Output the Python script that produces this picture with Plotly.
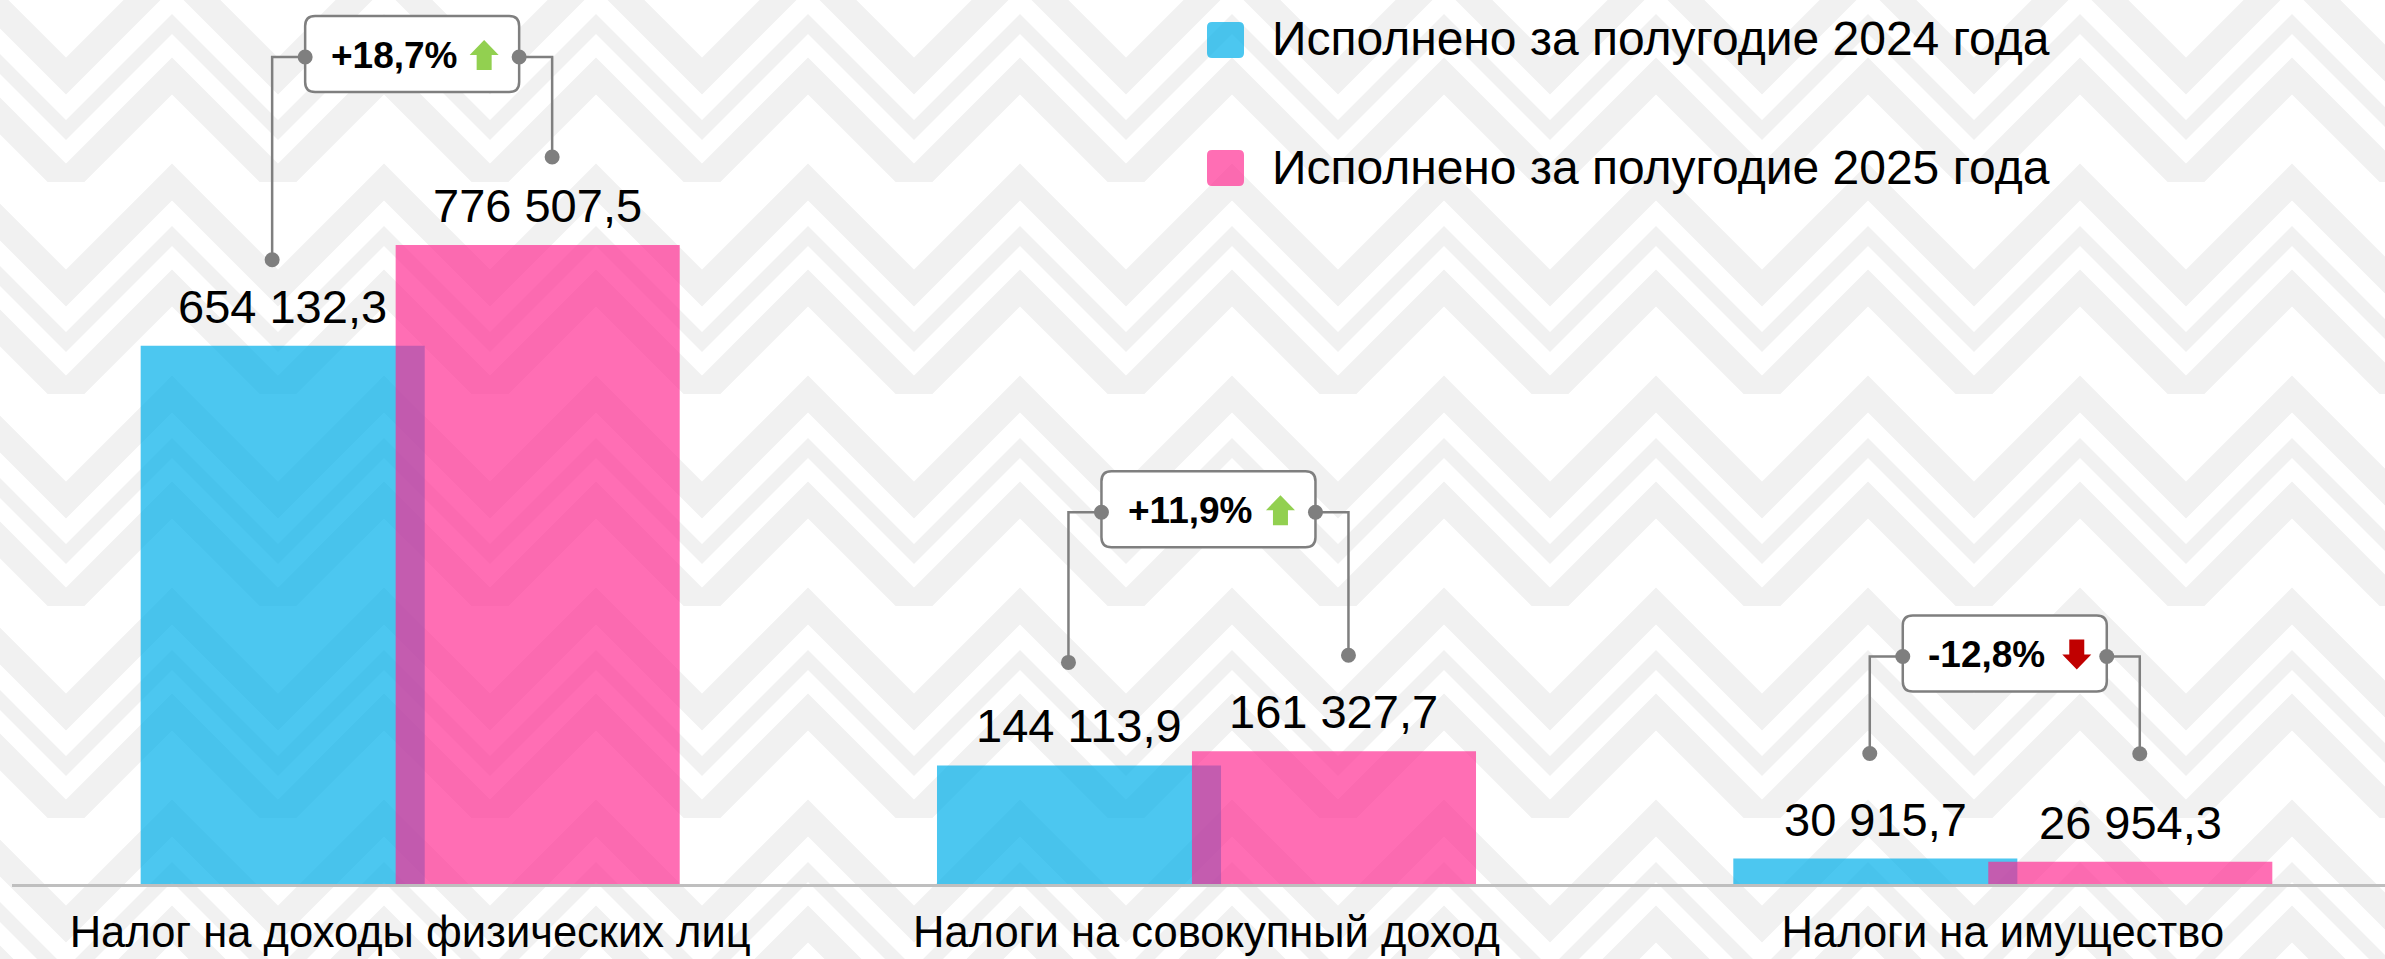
import base64
import plotly.graph_objects as go

# ---------------- data ----------------
categories = ["Налог на доходы физических лиц", "Налоги на совокупный доход", "Налоги на имущество"]
series_names = ["Исполнено за полугодие 2024 года", "Исполнено за полугодие 2025 года"]
values_2024 = [654132.3, 144113.9, 30915.7]
values_2025 = [776507.5, 161327.7, 26954.3]

# ---------------- layout / style constants ----------------
W, H = 2385, 959
M_L, M_R, M_T, M_B = 12, 0, 0, 75
PLOT_W = W - M_L - M_R
PLOT_H = H - M_T - M_B
X_RANGE = [-0.5, 2.48]
Y_RANGE = [0, 1074250]
UX = (X_RANGE[1] - X_RANGE[0]) / PLOT_W   # data units per pixel (x)
UY = (Y_RANGE[1] - Y_RANGE[0]) / PLOT_H   # data units per pixel (y)

BAR_W = 0.3567
OFF_24 = -0.3384
OFF_25 = -0.0182
C24 = "rgba(0,175,234,0.70)"
C25 = "rgba(255,39,143,0.67)"
GRAY = "#7F7F7F"
FONT = "Liberation Sans, Arial, sans-serif"

# bracket tuning (pixels)
box_lift_px = [188, 239, 202]
dot_gap_left_px = [86, 103, 105]
dot_gap_right_px = [88, 96, 108]


def fmt_num(v):
    return f"{v:,.1f}".replace(",", " ").replace(".", ",")


def rrect_path(x0, y0, x1, y1, rx, ry):
    return (f"M {x0+rx},{y1} L {x1-rx},{y1} Q {x1},{y1} {x1},{y1-ry} "
            f"L {x1},{y0+ry} Q {x1},{y0} {x1-rx},{y0} L {x0+rx},{y0} "
            f"Q {x0},{y0} {x0},{y0+ry} L {x0},{y1-ry} Q {x0},{y1} {x0+rx},{y1} Z")


xs = list(range(len(categories)))

fig = go.Figure()
fig.add_trace(go.Bar(x=xs, y=values_2024, name=series_names[0], width=BAR_W, offset=OFF_24,
                     marker=dict(color=C24, line=dict(width=0)), showlegend=False))
fig.add_trace(go.Bar(x=xs, y=values_2025, name=series_names[1], width=BAR_W, offset=OFF_25,
                     marker=dict(color=C25, line=dict(width=0)), showlegend=False))

annotations = []
shapes = []

# value labels
for vals, off in ((values_2024, OFF_24), (values_2025, OFF_25)):
    for i, v in enumerate(vals):
        annotations.append(dict(x=i + off + BAR_W / 2, y=v, xref="x", yref="y", text=fmt_num(v),
                                showarrow=False, yanchor="bottom", xanchor="center", yshift=11,
                                font=dict(family=FONT, size=47, color="black")))

# comparison brackets
for i in xs:
    v24, v25 = values_2024[i], values_2025[i]
    pct = (v25 / v24 - 1) * 100
    vmax = max(v24, v25)
    L = vmax + box_lift_px[i] * UY
    cx = i + 2 * UX
    hw = 107 if pct >= 0 else 102
    bx0, bx1 = cx - hw * UX, cx + hw * UX
    by0, by1 = L - 35 * UY, L + 41 * UY
    xl, xr = bx0 - 33 * UX, bx1 + 33 * UX
    yl = v24 + dot_gap_left_px[i] * UY
    yr = v25 + dot_gap_right_px[i] * UY
    line = dict(color=GRAY, width=2.5)
    shapes.append(dict(type="path", xref="x", yref="y", path=f"M {bx0},{L} L {xl},{L} L {xl},{yl}",
                       line=line, fillcolor="rgba(0,0,0,0)"))
    shapes.append(dict(type="path", xref="x", yref="y", path=f"M {bx1},{L} L {xr},{L} L {xr},{yr}",
                       line=line, fillcolor="rgba(0,0,0,0)"))
    shapes.append(dict(type="path", xref="x", yref="y",
                       path=rrect_path(bx0, by0, bx1, by1, 10 * UX, 10 * UY),
                       line=dict(color=GRAY, width=2.5), fillcolor="white"))
    r = 7.5
    for (px, py) in ((bx0, L), (xl, yl), (bx1, L), (xr, yr)):
        shapes.append(dict(type="circle", xref="x", yref="y",
                           x0=px - r * UX, x1=px + r * UX, y0=py - r * UY, y1=py + r * UY,
                           line=dict(width=0), fillcolor=GRAY))
    sign = "+" if pct >= 0 else "-"
    txt = f"<b>{sign}{abs(pct):.1f}%</b>".replace(".", ",")
    annotations.append(dict(x=cx - 18 * UX, y=L + 2 * UY, xref="x", yref="y", text=txt,
                            showarrow=False, xanchor="center", yanchor="middle",
                            font=dict(family=FONT, size=37, color="black")))
    # arrow icon
    ax, ay = cx + 72 * UX, L + 2 * UY
    d = 1 if pct >= 0 else -1
    pts = [(0, 15), (14.5, 0), (7.5, 0), (7.5, -15), (-7.5, -15), (-7.5, 0), (-14.5, 0)]
    p = " L ".join(f"{ax + px_ * UX},{ay + d * py_ * UY}" for px_, py_ in pts)
    shapes.append(dict(type="path", xref="x", yref="y", path=f"M {p} Z",
                       line=dict(width=0), fillcolor="#92D050" if pct >= 0 else "#C00000"))


# manual legend (pixel positions converted to paper coords)
def xp(px):
    return (px - M_L) / PLOT_W


def yp(py):
    return (H - M_B - py) / PLOT_H


for k, (name, col) in enumerate(zip(series_names, [C24, C25])):
    cy = 40 + 128 * k
    x0, x1 = xp(1207), xp(1244)
    y0, y1 = yp(cy + 18), yp(cy - 18)
    shapes.append(dict(type="path", xref="paper", yref="paper",
                       path=rrect_path(x0, y0, x1, y1, 5 / PLOT_W, 5 / PLOT_H),
                       line=dict(width=0), fillcolor=col))
    annotations.append(dict(x=xp(1270), y=yp(cy - 1), xref="paper", yref="paper", text=name,
                            showarrow=False, xanchor="left", yanchor="middle",
                            font=dict(family=FONT, size=48, color="black")))

# decorative ornament background (very light grey chevrons)
svg_bg = (
    f'<svg xmlns="http://www.w3.org/2000/svg" width="{W}" height="{H}">'
    '<defs><pattern id="p" width="212" height="212" patternUnits="userSpaceOnUse" x="-40" y="-30">'
    '<g fill="none" stroke="#F1F1F1" stroke-width="26" stroke-linejoin="miter">'
    '<polyline points="-106,106 0,0 106,106 212,0 318,106"/>'
    '<polyline points="-106,212 0,106 106,212 212,106 318,212"/>'
    '<polyline points="-106,318 0,212 106,318 212,212 318,318"/>'
    '<polyline points="-106,160 0,54 106,160 212,54 318,160" stroke-width="14"/>'
    '</g></pattern></defs>'
    '<rect width="100%" height="100%" fill="white"/>'
    '<rect width="100%" height="100%" fill="url(#p)"/></svg>'
)
bg_src = "data:image/svg+xml;base64," + base64.b64encode(svg_bg.encode()).decode()

fig.update_layout(
    width=W, height=H,
    margin=dict(l=M_L, r=M_R, t=M_T, b=M_B, pad=0),
    paper_bgcolor="white", plot_bgcolor="rgba(0,0,0,0)",
    barmode="overlay",
    showlegend=False,
    font=dict(family=FONT, color="black"),
    images=[dict(source=bg_src, xref="paper", yref="paper", x=xp(0), y=yp(0),
                 sizex=W / PLOT_W, sizey=H / PLOT_H, xanchor="left", yanchor="top",
                 sizing="stretch", layer="below")],
    xaxis=dict(range=X_RANGE, tickvals=xs, ticktext=categories, showgrid=False, zeroline=False,
               showline=True, linecolor="#BFBFBF", linewidth=3, ticks="", automargin=False,
               tickfont=dict(family=FONT, size=43.5, color="black"), ticklabelstandoff=8),
    yaxis=dict(range=Y_RANGE, showgrid=False, zeroline=False, showticklabels=False, showline=False,
               automargin=False),
    shapes=shapes,
    annotations=annotations,
)

fig.write_html("out.html", config={"displayModeBar": False},
               post_script="document.body.style.margin='0';document.body.style.overflow='hidden';")
